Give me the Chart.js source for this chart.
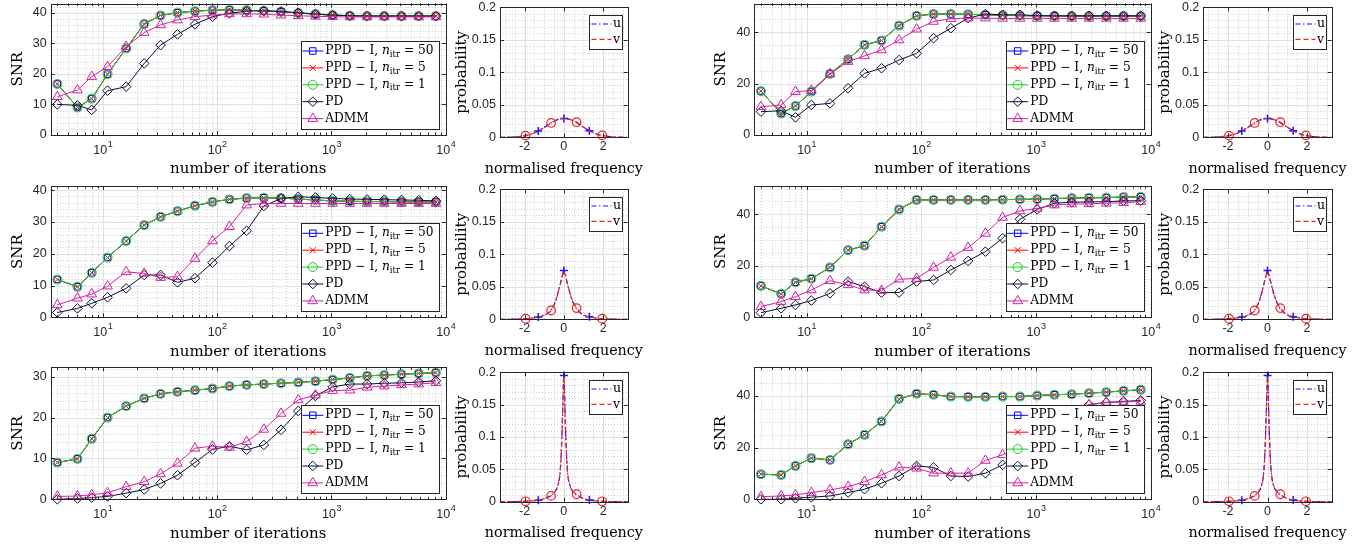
<!DOCTYPE html>
<html>
<head>
<meta charset="utf-8">
<script src="https://cdn.jsdelivr.net/npm/chart.js@4.4.0/dist/chart.umd.min.js"></script>
<style>
  html, body { margin: 0; padding: 0; background: #fff; overflow: hidden; }
  #fig { position: relative; width: 1370px; height: 547px; overflow: hidden; }
  #fig canvas { position: absolute; }
</style>
</head>
<body>
<div id="fig"></div>
<script>
// iteration counts (x of every SNR panel)
const iters = [4, 6, 8, 11, 16, 23, 32, 45, 64, 91, 128, 181, 256, 362, 512, 724, 1024, 1448, 2048, 2896, 4096, 5793, 8192];

// SNR values (PPD curves for n_itr = 50, 5, 1 overlap)
const ppdTL  = [16.7, 9.0, 11.9, 19.9, 28.3, 36.3, 39.1, 40.0, 40.5, 40.8, 40.9, 40.8, 40.6, 40.3, 39.9, 39.5, 39.2, 39.0, 38.9, 38.9, 38.9, 38.9, 38.9];
const pdTL   = [10.0, 9.7, 8.2, 14.5, 15.8, 23.4, 29.4, 32.9, 36.2, 38.7, 39.8, 40.5, 40.6, 40.4, 40.0, 39.6, 39.2, 39.0, 38.9, 38.9, 38.9, 38.9, 38.9];
const admmTL = [12.5, 14.7, 19.1, 22.3, 28.9, 33.5, 36.0, 37.6, 38.7, 39.2, 39.6, 39.6, 39.5, 39.2, 39.0, 38.8, 38.7, 38.6, 38.6, 38.6, 38.6, 38.6, 38.6];

const ppdML  = [11.9, 9.6, 14.0, 18.8, 24.0, 29.0, 31.6, 33.4, 35.1, 36.3, 37.1, 37.5, 37.6, 37.5, 37.2, 36.9, 36.6, 36.5, 36.4, 36.4, 36.3, 36.3, 36.3];
const pdML   = [1.5, 2.8, 4.4, 6.3, 9.1, 13.3, 13.3, 11.0, 12.3, 17.2, 22.4, 27.2, 35.0, 37.4, 37.9, 37.7, 37.4, 37.2, 37.1, 37.0, 36.9, 36.8, 36.6];
const admmML = [3.9, 6.0, 7.3, 9.8, 14.3, 13.8, 12.5, 12.8, 18.5, 24.0, 28.5, 35.3, 35.8, 35.8, 35.8, 35.8, 35.8, 35.8, 35.8, 35.8, 35.8, 35.8, 35.8];

const ppdBL  = [9.0, 9.9, 14.8, 20.0, 22.8, 24.7, 25.8, 26.3, 26.7, 27.1, 27.7, 28.0, 28.2, 28.4, 28.6, 28.9, 29.3, 29.7, 30.2, 30.4, 30.6, 30.8, 31.0];
const pdBL   = [0.0, 0.2, 0.4, 0.7, 1.5, 2.4, 3.9, 5.9, 9.0, 12.2, 13.0, 12.1, 13.3, 17.0, 21.6, 25.3, 27.5, 28.2, 28.2, 28.4, 28.5, 28.7, 29.0];
const admmBL = [0.7, 0.8, 1.1, 1.6, 3.1, 4.3, 6.2, 8.8, 12.5, 13.0, 12.7, 14.1, 17.1, 21.0, 24.3, 25.5, 26.6, 26.7, 27.4, 27.7, 28.0, 28.2, 28.5];

const ppdTR  = [17.1, 8.4, 11.3, 16.9, 23.8, 29.5, 35.1, 36.8, 42.6, 46.4, 47.1, 47.1, 47.0, 46.8, 46.6, 46.5, 46.4, 46.4, 46.3, 46.3, 46.3, 46.3, 46.3];
const pdTR   = [9.1, 9.4, 6.9, 11.7, 12.3, 18.2, 24.0, 26.0, 29.2, 31.8, 37.7, 41.6, 45.5, 47.1, 46.8, 46.8, 46.5, 46.4, 46.4, 46.4, 46.4, 46.4, 46.4];
const admmTR = [11.0, 11.7, 16.9, 17.3, 23.8, 28.6, 30.8, 33.1, 37.0, 41.2, 44.2, 45.3, 45.5, 45.5, 45.4, 45.4, 45.4, 45.4, 45.4, 45.4, 45.4, 45.4, 45.4];

const ppdMR  = [12.2, 9.1, 13.6, 15.0, 19.4, 26.1, 27.8, 35.2, 41.9, 45.6, 45.6, 45.6, 45.6, 45.6, 45.7, 45.8, 45.9, 46.1, 46.3, 46.4, 46.5, 46.7, 46.8];
const pdMR   = [1.8, 3.5, 4.8, 6.5, 9.3, 13.9, 11.9, 9.6, 9.6, 13.9, 14.5, 18.4, 21.9, 25.5, 30.7, 38.1, 41.9, 44.3, 44.7, 44.8, 44.9, 45.2, 45.3];
const admmMR = [4.1, 6.1, 8.0, 10.6, 14.2, 12.6, 10.6, 10.4, 14.8, 15.1, 19.4, 23.3, 27.1, 32.6, 38.8, 41.3, 42.3, 43.6, 44.0, 44.1, 44.3, 44.5, 44.9];

const ppdBR  = [9.7, 9.4, 12.9, 15.9, 15.2, 21.3, 24.9, 30.1, 38.8, 40.8, 40.4, 39.7, 39.6, 39.6, 39.7, 39.7, 40.1, 40.4, 40.6, 41.0, 41.4, 41.9, 42.3];
const pdBR   = [0.0, 0.0, 0.4, 0.8, 1.3, 2.6, 3.9, 6.2, 9.0, 12.9, 12.3, 9.0, 8.8, 10.1, 13.3, 18.0, 24.0, 30.0, 34.0, 36.5, 37.4, 37.8, 38.2];
const admmBR = [1.0, 1.3, 1.7, 2.6, 3.6, 4.9, 6.8, 9.4, 12.4, 12.0, 10.1, 10.1, 10.1, 15.0, 17.2, 20.0, 25.0, 30.0, 34.0, 36.5, 37.5, 37.6, 37.8];

// tick values / labels
const iterTicks = [10, 100, 1000, 10000];
const snrTicksA = [0, 10, 20, 30, 40];
const snrTicksB = [0, 10, 20, 30];
const snrTicksC = [0, 20, 40];
const freqTicks = [-2, 0, 2];
const probTicks = [0, 0.05, 0.1, 0.15, 0.2];
const probTickLabels = ['0', '0.05', '0.1', '0.15', '0.2'];

// probability curves (same for both columns)
const freqs = [-3.25, -2.6, -1.95, -1.625, -1.3, -0.975, -0.65, -0.455, -0.325, -0.195, -0.13, -0.065, 0, 0.065, 0.13, 0.195, 0.325, 0.455, 0.65, 0.975, 1.3, 1.625, 1.95, 2.6, 3.25];
const uTop = [0.0000, 0.0004, 0.0025, 0.0053, 0.0098, 0.0157, 0.0222, 0.0254, 0.0271, 0.0283, 0.0287, 0.0289, 0.0290, 0.0289, 0.0287, 0.0283, 0.0271, 0.0255, 0.0226, 0.0160, 0.0102, 0.0055, 0.0026, 0.0004, 0.0000];
const vTop = [0.0000, 0.0004, 0.0026, 0.0054, 0.0099, 0.0158, 0.0221, 0.0254, 0.0271, 0.0283, 0.0287, 0.0289, 0.0290, 0.0289, 0.0287, 0.0284, 0.0272, 0.0257, 0.0232, 0.0162, 0.0101, 0.0054, 0.0030, 0.0004, 0.0000];
const uMid = [0.0000, 0.0002, 0.0008, 0.0018, 0.0035, 0.0065, 0.0140, 0.0255, 0.0375, 0.0525, 0.0605, 0.0685, 0.0750, 0.0690, 0.0610, 0.0530, 0.0385, 0.0270, 0.0160, 0.0070, 0.0040, 0.0020, 0.0009, 0.0002, 0.0000];
const vMid = [0.0000, 0.0002, 0.0009, 0.0018, 0.0035, 0.0066, 0.0135, 0.0250, 0.0372, 0.0525, 0.0605, 0.0685, 0.0745, 0.0690, 0.0612, 0.0535, 0.0390, 0.0280, 0.0172, 0.0072, 0.0040, 0.0020, 0.0010, 0.0002, 0.0000];
const uBot = [0.0000, 0.0001, 0.0006, 0.0012, 0.0024, 0.0050, 0.0098, 0.0155, 0.0230, 0.0440, 0.0760, 0.1350, 0.1950, 0.1350, 0.0760, 0.0440, 0.0235, 0.0160, 0.0105, 0.0052, 0.0025, 0.0013, 0.0006, 0.0001, 0.0000];
const vBot = [0.0000, 0.0001, 0.0006, 0.0012, 0.0024, 0.0050, 0.0090, 0.0150, 0.0228, 0.0440, 0.0760, 0.1350, 0.1930, 0.1350, 0.0760, 0.0440, 0.0238, 0.0165, 0.0115, 0.0053, 0.0025, 0.0013, 0.0006, 0.0001, 0.0000];
const uMarkFreqs = [-1.3, 0, 1.3];
const vMarkFreqs = [-1.95, -0.65, 0.65, 1.95];

// legend texts
const snrLabels = [
  [{t: 'PPD \u2212 I, '}, {t: 'n', it: true}, {t: 'itr', sub: true}, {t: ' = 50'}],
  [{t: 'PPD \u2212 I, '}, {t: 'n', it: true}, {t: 'itr', sub: true}, {t: ' = 5'}],
  [{t: 'PPD \u2212 I, '}, {t: 'n', it: true}, {t: 'itr', sub: true}, {t: ' = 1'}],
  [{t: 'PD'}],
  [{t: 'ADMM'}]
];
const probLabels = ['u', 'v'];

// ---------- look ----------
const sans = '"Liberation Sans", Arial, sans-serif';
const serif = '"DejaVu Serif", serif';
const axisColor = '#262626';
const snrStyles = [
  {color: '#0000ff', point: 'rect', r: 4.6},
  {color: '#ff0000', point: 'crossRot', r: 4.3},
  {color: '#19d019', point: 'circle', r: 4.5},
  {color: '#0d0d33', point: 'rectRot', r: 4.8},
  {color: '#d4229e', point: 'triangle', r: 5.6}
];
const uColor = '#1414ff', vColor = '#f02020';
const uDash = [5, 2.5, 1.5, 2.5], vDash = [5, 3];

// axes boxes in page pixels
const snrCols = [{l: 50.7, r: 445.8}, {l: 754.3, r: 1150.7}];
const snrRows = [{t: 3.5, b: 135}, {t: 186, b: 317.3}, {t: 367.3, b: 499.3}];
const probCols = [{l: 500, r: 627.7}, {l: 1203.3, r: 1331.7}];
const probRows = [{t: 7.3, b: 137.3}, {t: 189.3, b: 319.3}, {t: 372.3, b: 501.7}];

const snrPanels = [
  {col: 0, row: 0, ppd: ppdTL, pd: pdTL, admm: admmTL, yMax: 43, yTicks: snrTicksA, minor: 2},
  {col: 0, row: 1, ppd: ppdML, pd: pdML, admm: admmML, yMax: 41.3, yTicks: snrTicksA, minor: 2},
  {col: 0, row: 2, ppd: ppdBL, pd: pdBL, admm: admmBL, yMax: 32.3, yTicks: snrTicksB, minor: 2},
  {col: 1, row: 0, ppd: ppdTR, pd: pdTR, admm: admmTR, yMax: 51.2, yTicks: snrTicksC, minor: 5},
  {col: 1, row: 1, ppd: ppdMR, pd: pdMR, admm: admmMR, yMax: 51, yTicks: snrTicksC, minor: 5},
  {col: 1, row: 2, ppd: ppdBR, pd: pdBR, admm: admmBR, yMax: 51, yTicks: snrTicksC, minor: 5}
];
const probPanels = [
  {row: 0, u: uTop, v: vTop},
  {row: 1, u: uMid, v: vMid},
  {row: 2, u: uBot, v: vBot}
];

function range(a, b, step) {
  const out = [];
  for (let v = a; v <= b + 1e-9; v += step) out.push(+v.toFixed(4));
  return out;
}
const logMinor = [];
for (let k = 0; k < 4; k++) for (let m = 2; m <= 9; m++) {
  const v = m * Math.pow(10, k);
  if (v > 3.5 && v < 10000) logMinor.push(v);
}

function drawParts(ctx, parts, x, y, size) {
  for (const p of parts) {
    const s = p.sub ? size * 0.7 : size;
    ctx.font = (p.it ? 'italic ' : '') + s + 'px ' + serif;
    ctx.fillText(p.t, x, y + (p.sub ? size * 0.28 : 0));
    x += ctx.measureText(p.t).width;
  }
}

// MATLAB-like grid, box, ticks and legend
const matlabAxes = {
  id: 'matlabAxes',
  beforeDatasetsDraw(chart, args, o) {
    const {ctx, chartArea: a, scales: {x, y}} = chart;
    ctx.save();
    ctx.lineWidth = 1;
    const vline = (v) => { const p = Math.round(x.getPixelForValue(v)) + 0.5; ctx.beginPath(); ctx.moveTo(p, a.top); ctx.lineTo(p, a.bottom); ctx.stroke(); };
    const hline = (v) => { const p = Math.round(y.getPixelForValue(v)) + 0.5; ctx.beginPath(); ctx.moveTo(a.left, p); ctx.lineTo(a.right, p); ctx.stroke(); };
    ctx.strokeStyle = '#cdcdcd';
    ctx.setLineDash([1, 2]);
    o.xMinor.forEach(vline);
    o.yMinor.forEach(hline);
    ctx.setLineDash([]);
    ctx.strokeStyle = '#e0e0e0';
    o.xMajor.forEach(vline);
    o.yMajor.forEach(hline);
    ctx.restore();
  },
  afterDatasetsDraw(chart, args, o) {
    const {ctx, chartArea: a, scales: {x, y}} = chart;
    ctx.save();
    ctx.strokeStyle = axisColor;
    ctx.lineWidth = 1;
    ctx.strokeRect(Math.round(a.left) + 0.5, Math.round(a.top) + 0.5, Math.round(a.right) - Math.round(a.left), Math.round(a.bottom) - Math.round(a.top));
    ctx.beginPath();
    const xt = (v, len) => { const p = Math.round(x.getPixelForValue(v)) + 0.5; ctx.moveTo(p, a.bottom); ctx.lineTo(p, a.bottom - len); ctx.moveTo(p, a.top); ctx.lineTo(p, a.top + len); };
    const yt = (v, len) => { const p = Math.round(y.getPixelForValue(v)) + 0.5; ctx.moveTo(a.left, p); ctx.lineTo(a.left + len, p); ctx.moveTo(a.right, p); ctx.lineTo(a.right - len, p); };
    o.xTicks.forEach(v => xt(v, 4));
    if (o.xMinorTicks) o.xMinor.forEach(v => xt(v, 2.5));
    o.yTicks.forEach(v => yt(v, 4));
    ctx.stroke();

    if (o.logLabels) {
      ctx.fillStyle = axisColor;
      ctx.textBaseline = 'middle';
      ctx.textAlign = 'left';
      for (const v of iterTicks) {
        const px = x.getPixelForValue(v);
        const e = String(Math.round(Math.log10(v)));
        ctx.font = '12.5px ' + sans;
        const w1 = ctx.measureText('10').width;
        ctx.font = '9px ' + sans;
        const w2 = ctx.measureText(e).width;
        const x0 = px - (w1 + w2) / 2;
        ctx.font = '12.5px ' + sans;
        ctx.fillText('10', x0, a.bottom + 15.5);
        ctx.font = '9px ' + sans;
        ctx.fillText(e, x0 + w1 + 0.5, a.bottom + 9.5);
      }
    }

    // x title wider than the axes: drawn here so it is not squeezed
    if (o.xTitle) {
      ctx.fillStyle = '#000000';
      ctx.font = o.xTitle.size + 'px ' + serif;
      ctx.textAlign = 'center';
      ctx.textBaseline = 'middle';
      ctx.fillText(o.xTitle.text, (a.left + a.right) / 2, a.bottom + o.xTitle.off);
    }

    const lg = o.legend;
    if (lg) {
      const bx = a.right - lg.dx - lg.w, by = lg.fromTop ? a.top + lg.dy : a.bottom - lg.dy - lg.h;
      ctx.fillStyle = '#ffffff';
      ctx.fillRect(bx, by, lg.w, lg.h);
      ctx.strokeStyle = axisColor;
      ctx.strokeRect(Math.round(bx) + 0.5, Math.round(by) + 0.5, Math.round(lg.w), Math.round(lg.h));
      lg.items.forEach((it, i) => {
        const cy = by + lg.first + i * lg.step;
        ctx.save();
        ctx.strokeStyle = it.color;
        ctx.lineWidth = it.width || 1;
        ctx.setLineDash(it.dash || []);
        ctx.beginPath();
        ctx.moveTo(bx + lg.x1, cy);
        ctx.lineTo(bx + lg.x2, cy);
        ctx.stroke();
        ctx.setLineDash([]);
        if (it.point) {
          ctx.fillStyle = 'rgba(0,0,0,0)';
          Chart.helpers.drawPoint(ctx, {pointStyle: it.point, radius: it.r, borderWidth: 1, rotation: 0}, bx + (lg.x1 + lg.x2) / 2, cy);
        }
        ctx.restore();
        ctx.fillStyle = '#000000';
        ctx.textBaseline = 'middle';
        ctx.textAlign = 'left';
        drawParts(ctx, it.text, bx + lg.tx, cy, lg.font);
      });
    }
    ctx.restore();
  }
};

function frame(area, mL, mT, mR, mB) {
  const x0 = Math.floor(area.l - mL), y0 = Math.floor(area.t - mT);
  const x1 = Math.ceil(area.r + mR), y1 = Math.ceil(area.b + mB);
  return {x0, y0, w: x1 - x0, h: y1 - y0, yw: area.l - x0, xh: y1 - area.b, pt: area.t - y0, pr: x1 - area.r};
}

function addCanvas(f) {
  const c = document.createElement('canvas');
  c.width = f.w;
  c.height = f.h;
  c.style.left = f.x0 + 'px';
  c.style.top = f.y0 + 'px';
  c.style.width = f.w + 'px';
  c.style.height = f.h + 'px';
  document.getElementById('fig').appendChild(c);
  return c;
}

function baseScales(f, xTitle, yTitle, xOff, yOff) {
  const titleFont = {family: serif, size: 15};
  return {
    x: {
      bounds: 'data',
      afterFit: s => { s.height = f.xh; },
      grid: {display: false, drawTicks: false},
      border: {display: false},
      title: {display: !!xTitle, text: xTitle || '', font: titleFont, color: '#000', padding: {top: 0, bottom: f.xh - 9 - xOff}}
    },
    y: {
      bounds: 'data',
      afterFit: s => { s.width = f.yw; },
      grid: {display: false, drawTicks: false},
      border: {display: false},
      ticks: {font: {family: sans, size: 12.5}, color: axisColor, padding: 4},
      title: {display: true, text: yTitle, font: titleFont, color: '#000', padding: {top: f.yw - 9 - yOff, bottom: 0}}
    }
  };
}

// ---------- SNR panels ----------
snrPanels.forEach(p => {
  const area = {l: snrCols[p.col].l, r: snrCols[p.col].r, t: snrRows[p.row].t, b: snrRows[p.row].b};
  const f = frame(area, 60, 14, 16, 50);
  const canvas = addCanvas(f);
  const scales = baseScales(f, 'number of iterations', 'SNR', 34.5, 33);
  Object.assign(scales.x, {
    type: 'logarithmic', min: 3.5, max: 10000,
    afterBuildTicks: s => { s.ticks = iterTicks.map(v => ({value: v})); },
    ticks: {display: false}
  });
  Object.assign(scales.y, {
    type: 'linear', min: 0, max: p.yMax,
    afterBuildTicks: s => { s.ticks = p.yTicks.map(v => ({value: v})); }
  });
  scales.y.ticks.callback = (v, i) => String(p.yTicks[i]);

  const series = [p.ppd, p.ppd, p.ppd, p.pd, p.admm];
  const datasets = series.map((vals, k) => ({
    data: iters.map((x, i) => ({x, y: vals[i]})),
    borderColor: snrStyles[k].color,
    backgroundColor: snrStyles[k].color,
    borderWidth: 1,
    pointStyle: snrStyles[k].point,
    pointRadius: snrStyles[k].r,
    pointBorderWidth: 1,
    pointBorderColor: snrStyles[k].color,
    pointBackgroundColor: 'rgba(0,0,0,0)',
    tension: 0,
    clip: false,
    order: 5 - k
  }));

  const yMinor = range(0, p.yMax, p.minor).filter(v => v % p.yTicks[1] !== 0);
  new Chart(canvas, {
    type: 'line',
    data: {datasets},
    options: {
      responsive: false,
      animation: false,
      events: [],
      layout: {padding: {top: f.pt, right: f.pr, left: 0, bottom: 0}},
      scales,
      plugins: {
        legend: {display: false},
        tooltip: {enabled: false},
        matlabAxes: {
          xMinor: logMinor, xMajor: [10, 100, 1000], xTicks: iterTicks, xMinorTicks: true,
          yMinor, yMajor: p.yTicks.filter(v => v > 0), yTicks: p.yTicks,
          logLabels: true,
          legend: {
            w: 138, h: 88, dx: 7, dy: 6, first: 10, step: 16.9,
            x1: 1.5, x2: 22.5, tx: 24.5, font: 12.2,
            items: snrStyles.map((s, k) => ({color: s.color, point: s.point, r: s.r, text: snrLabels[k]}))
          }
        }
      }
    },
    plugins: [matlabAxes]
  });
});

// ---------- probability panels ----------
probCols.forEach(col => {
  probPanels.forEach(p => {
    const area = {l: col.l, r: col.r, t: probRows[p.row].t, b: probRows[p.row].b};
    const f = frame(area, 60, 14, 30, 50);
    const canvas = addCanvas(f);
    const scales = baseScales(f, null, 'probability', 31.5, 38);
    Object.assign(scales.x, {
      type: 'linear', min: -3.25, max: 3.25,
      afterBuildTicks: s => { s.ticks = freqTicks.map(v => ({value: v})); },
      ticks: {font: {family: sans, size: 12.5}, color: axisColor, padding: 2, callback: (v, i) => String(freqTicks[i])}
    });
    Object.assign(scales.y, {
      type: 'linear', min: 0, max: 0.2,
      afterBuildTicks: s => { s.ticks = probTicks.map(v => ({value: v})); }
    });
    scales.y.ticks.callback = (v, i) => probTickLabels[i];

    const mk = (list, r) => c => list.some(m => Math.abs(m - freqs[c.dataIndex]) < 1e-6) ? r : 0;
    const datasets = [
      {
        data: freqs.map((x, i) => ({x, y: p.v[i]})),
        borderColor: vColor, borderWidth: 1.2, borderDash: vDash,
        pointStyle: 'circle', pointRadius: mk(vMarkFreqs, 4.3), pointBorderWidth: 1.2,
        pointBorderColor: vColor, pointBackgroundColor: 'rgba(0,0,0,0)',
        cubicInterpolationMode: 'monotone', clip: false, order: 0
      },
      {
        data: freqs.map((x, i) => ({x, y: p.u[i]})),
        borderColor: uColor, borderWidth: 1.2, borderDash: uDash,
        pointStyle: 'cross', pointRadius: mk(uMarkFreqs, 4), pointBorderWidth: 1.5,
        pointBorderColor: uColor, pointBackgroundColor: 'rgba(0,0,0,0)',
        cubicInterpolationMode: 'monotone', clip: false, order: 1
      }
    ];
    new Chart(canvas, {
      type: 'line',
      data: {datasets},
      options: {
        responsive: false,
        animation: false,
        events: [],
        layout: {padding: {top: f.pt, right: f.pr, left: 0, bottom: 0}},
        scales,
        plugins: {
          legend: {display: false},
          tooltip: {enabled: false},
          matlabAxes: {
            xMinor: [-3, -2.5, -1.5, -1, -0.5, 0.5, 1, 1.5, 2.5, 3], xMajor: freqTicks, xTicks: freqTicks,
            yMinor: range(0, 0.2, 0.01).filter(v => Math.round(v * 100) % 5 !== 0), yMajor: [0.05, 0.1, 0.15], yTicks: probTicks,
            xTitle: {text: 'normalised frequency', off: 31.5, size: 14.3},
            legend: {
              w: 33, h: 34, dx: 5.7, dy: 7.7, fromTop: true, first: 9, step: 15.3,
              x1: 2.5, x2: 22.5, tx: 24, font: 12.5,
              items: [
                {color: uColor, dash: uDash, width: 1.2, text: [{t: probLabels[0]}]},
                {color: vColor, dash: vDash, width: 1.2, text: [{t: probLabels[1]}]}
              ]
            }
          }
        }
      },
      plugins: [matlabAxes]
    });
  });
});
</script>
</body>
</html>
